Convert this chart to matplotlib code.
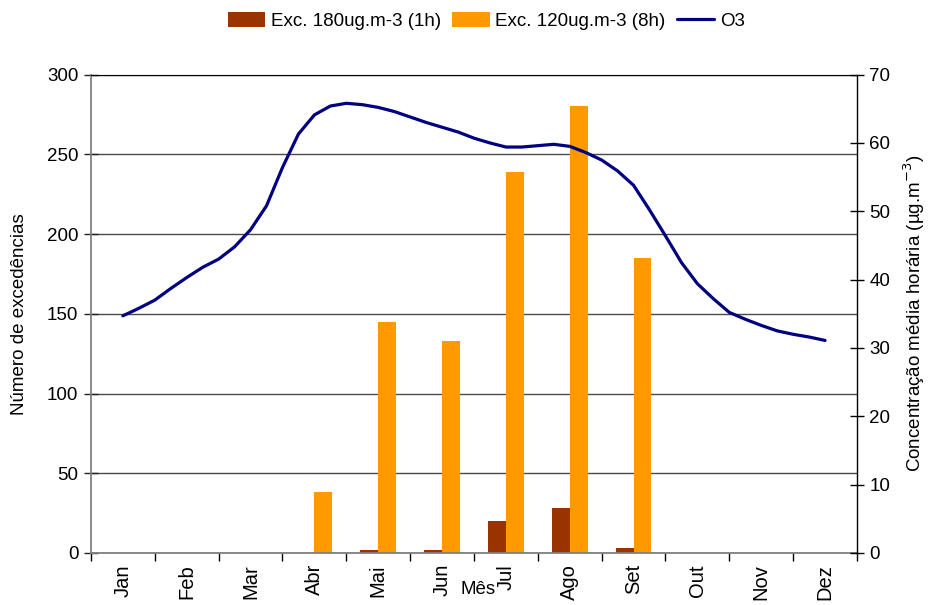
import numpy as np
import matplotlib.pyplot as plt
from matplotlib.ticker import MultipleLocator, FixedLocator

plt.rcParams['font.family'] = ['Liberation Sans', 'DejaVu Sans']
plt.rcParams['font.size'] = 13.5

# ---- dados ----
meses = ["Jan", "Feb", "Mar", "Abr", "Mai", "Jun", "Jul", "Ago", "Set", "Out", "Nov", "Dez"]
exc_180 = [0, 0, 0, 0, 2, 2, 20, 28, 3, 0, 0, 0]
exc_120 = [0, 0, 0, 38, 145, 133, 239, 280, 185, 0, 0, 0]

# O3 médio horário (posição no eixo dos meses, valor em ug.m-3)
o3_pos = [0.0, 0.25, 0.5, 0.75, 1.0, 1.25, 1.5, 1.75, 2.0, 2.25, 2.5, 2.75,
          3.0, 3.25, 3.5, 3.75, 4.0, 4.25, 4.5, 4.75, 5.0, 5.25, 5.5, 5.75,
          6.0, 6.25, 6.5, 6.75, 7.0, 7.25, 7.5, 7.75, 8.0, 8.25, 8.5, 8.75,
          9.0, 9.25, 9.5, 9.75, 10.0, 10.25, 10.5, 10.75, 11.0]
o3_val = [34.7, 35.8, 37.0, 38.7, 40.3, 41.8, 43.0, 44.8, 47.3, 50.8, 56.4, 61.3,
          64.1, 65.4, 65.8, 65.6, 65.2, 64.6, 63.8, 63.0, 62.3, 61.6, 60.7, 60.0,
          59.4, 59.4, 59.6, 59.8, 59.5, 58.6, 57.5, 55.9, 53.8, 50.2, 46.4, 42.5,
          39.4, 37.2, 35.2, 34.2, 33.3, 32.5, 32.0, 31.6, 31.1]

c_180 = '#993300'
c_120 = '#FF9900'
c_o3 = '#000080'

fig = plt.figure(figsize=(9.3, 6.05), dpi=100)
ax = fig.add_axes([0.0978, 0.0860, 0.8237, 0.7907])

x = np.arange(len(meses))
w = 0.28
b1 = ax.bar(x - w / 2, exc_180, width=w, color=c_180, label="Exc. 180ug.m-3 (1h)", zorder=2)
b2 = ax.bar(x + w / 2, exc_120, width=w, color=c_120, label="Exc. 120ug.m-3 (8h)", zorder=2)

ax.set_xlim(-0.5, 11.5)
ax.set_ylim(0, 300)
ax.yaxis.set_major_locator(MultipleLocator(50))
ax.set_axisbelow(True)
ax.grid(axis='y', color='#4a4a4a', lw=1.0)

ax.set_xticks(x)
ax.set_xticklabels(meses, rotation=90, fontsize=14.5)
ax.xaxis.set_minor_locator(FixedLocator(np.arange(-0.5, 12, 1)))
ax.tick_params(axis='x', which='major', length=0, pad=8)
ax.tick_params(axis='x', which='minor', length=6, direction='out', color='black', width=1)
ax.tick_params(axis='y', direction='inout', length=10, width=1, color='#222222', pad=4)

for s in ['left', 'bottom']:
    ax.spines[s].set_color('#808080')
    ax.spines[s].set_linewidth(1.3)
ax.spines['top'].set_color('black')
ax.spines['right'].set_visible(False)

ax.set_ylabel("Número de excedências", labelpad=14)
ax.text(0.505, -0.077, "Mês", transform=ax.transAxes, ha='center', va='center')

# eixo secundário com a concentração de O3
ax2 = ax.twinx()
ln, = ax2.plot(o3_pos, o3_val, color=c_o3, lw=2.3, label="O3", solid_capstyle='round',
               solid_joinstyle='round')
ax2.set_ylim(0, 70)
ax2.yaxis.set_major_locator(MultipleLocator(10))
ax2.tick_params(axis='y', direction='inout', length=10, width=1, color='black', pad=4)
ax2.spines['right'].set_color('black')
ax2.spines['right'].set_linewidth(1.0)
for s in ['left', 'top', 'bottom']:
    ax2.spines[s].set_visible(False)
ax2.set_ylabel("Concentração média horária (µg.m$^{-3}$)", labelpad=8)

fig.legend(handles=[b1, b2, ln], loc='center', bbox_to_anchor=(0.523, 0.965), ncol=3,
           frameon=False, handlelength=2.0, handleheight=0.8, handletextpad=0.3,
           columnspacing=0.6, fontsize=13.5)

fig.savefig("out.png", dpi=100)
